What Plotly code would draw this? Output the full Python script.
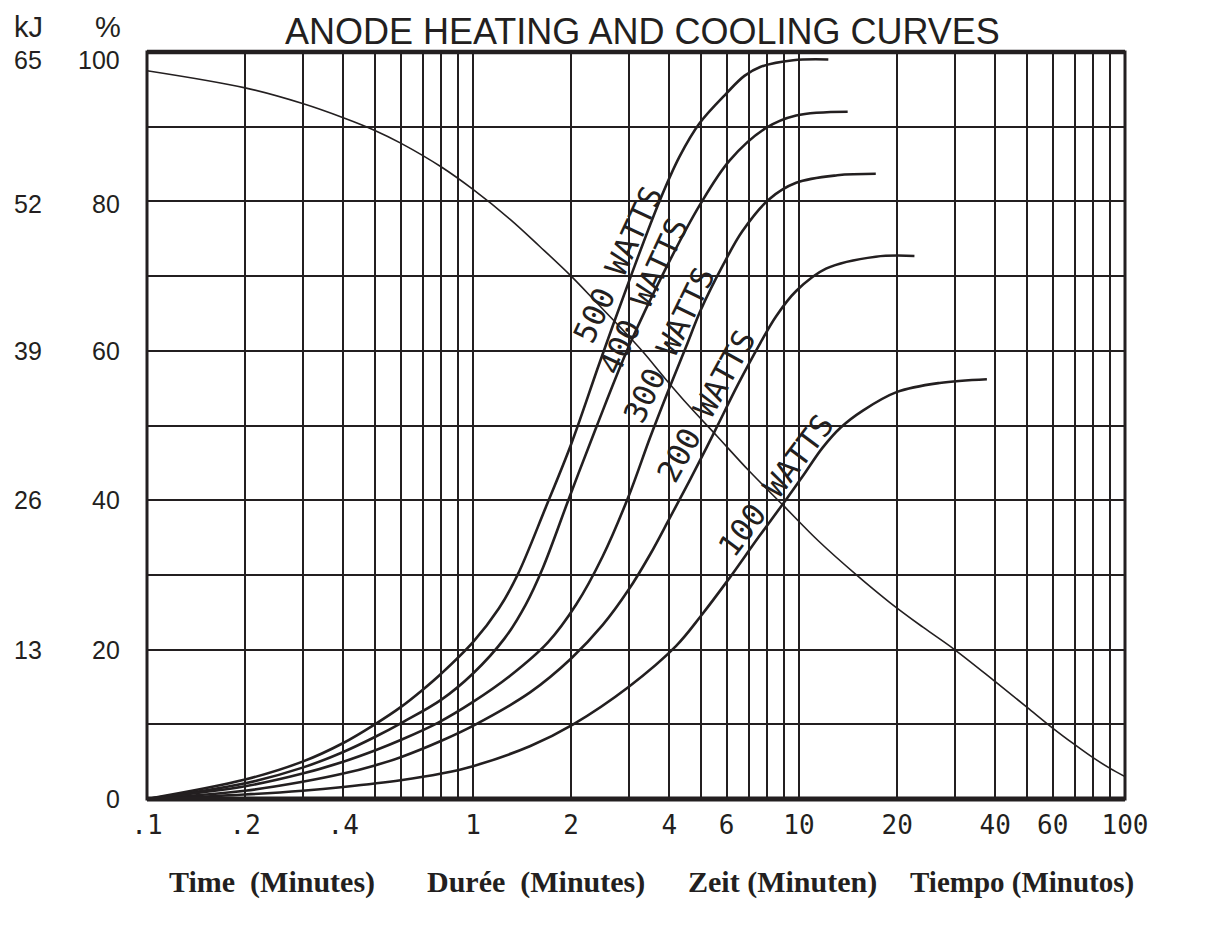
import plotly.graph_objects as go
import math

# ---------------- data ----------------
time_500 = [0.1, 0.2, 0.3, 0.4, 0.5, 0.6, 0.7, 0.8, 1.0, 1.2, 1.37, 1.67, 2.0, 2.45, 3.05, 3.73, 4.3, 4.96, 6.0, 6.8, 7.6, 9.6, 12.3]
pct_500 = [0, 2.6, 5.0, 7.5, 10, 12.3, 14.6, 16.8, 21, 25.5, 30, 39, 47.5, 58.5, 70, 80, 86, 90.5, 94.5, 96.8, 98, 98.9, 99]

time_400 = [0.1, 0.2, 0.3, 0.4, 0.5, 0.61, 0.8, 1.0, 1.25, 1.45, 1.64, 1.98, 2.4, 3.0, 3.9, 4.96, 6.13, 7.9, 9.8, 14.1]
pct_400 = [0, 2.1, 4.2, 6.3, 8.3, 10.3, 13.3, 16.8, 21.5, 26, 31, 40.5, 50, 60.5, 71, 79.5, 85.5, 89.8, 91.5, 92]

time_300 = [0.1, 0.2, 0.3, 0.4, 0.5, 0.6, 0.78, 1.0, 1.3, 1.7, 2.07, 2.5, 3.0, 3.5, 4.0, 4.5, 5.0, 5.85, 6.7, 8.1, 9.8, 13.1, 17.2]
pct_300 = [0, 1.7, 3.4, 5.0, 6.5, 7.9, 10.2, 13, 16.5, 21, 26, 32.5, 40.5, 48.5, 55, 60.5, 65.5, 71.5, 76, 80.3, 82.5, 83.5, 83.7]

time_200 = [0.1, 0.2, 0.3, 0.4, 0.5, 0.6, 0.8, 1.02, 1.5, 2.0, 2.5, 3.0, 3.5, 4.0, 4.6, 5.2, 5.7, 6.5, 7.6, 8.5, 9.8, 12.1, 17.2, 22.6]
pct_200 = [0, 1.1, 2.3, 3.4, 4.5, 5.6, 7.8, 10, 14.3, 18.8, 23.3, 28, 32.8, 37.5, 42.5, 47, 50.5, 55.5, 61, 64.6, 68, 71, 72.6, 72.7]

time_100 = [0.1, 0.2, 0.3, 0.4, 0.6, 0.8, 1.0, 1.5, 2.03, 3.0, 4.2, 5.0, 6.1, 7.5, 9.1, 10.3, 11.8, 13.4, 15.7, 20, 27, 37.7]
pct_100 = [0, 0.6, 1.1, 1.6, 2.5, 3.4, 4.4, 7.1, 10, 15, 20.5, 24.5, 29.5, 35, 40, 43.3, 47, 49.7, 52, 54.5, 55.7, 56.2]

time_cool = [0.1, 0.2, 0.3, 0.4, 0.5, 0.6, 0.8, 1.0, 1.3, 1.6, 2.0, 2.4, 2.85, 3.3, 3.9, 4.6, 5.6, 7, 8.9,
             11.5, 15, 19, 24, 30, 40, 50, 60, 70, 80, 90, 100]
pct_cool = [97.5, 95.2, 93.1, 91.2, 89.5, 87.8, 84.6, 81.6, 77.6, 74, 70, 66.4, 63, 60, 56.2, 52.6, 48.6, 44, 39.4,
            34.5, 30, 26.3, 23, 20, 15.7, 12.3, 9.5, 7.3, 5.5, 4.1, 3.0]

x_grid = [m * 10 ** e for e in (-1, 0, 1) for m in range(1, 10)] + [100]
x_labeled = [0.1, 0.2, 0.4, 0.6, 1, 2, 4, 6, 10, 20, 40, 60, 100]
x_label_text = [".1", ".2", ".4", ".6", "1", "2", "4", "6", "10", "20", "40", "60", "100"]

pct_ticks = [0, 20, 40, 60, 80, 100]
pct_text = ["0", "20", "40", "60", "80", "100"]
kj_ticks = [20, 40, 60, 80, 100]
kj_text = ["13", "26", "39", "52", "65"]

# curve label: text, centre time, centre %, angle
labels = [
    ("500 WATTS", 2.88, 71.3, -65),
    ("400 WATTS", 3.44, 67.1, -65),
    ("300 WATTS", 4.12, 60.5, -64),
    ("200 WATTS", 5.35, 52.3, -61),
    ("100 WATTS", 8.75, 41.6, -53),
]

captions = [
    ("Time  (Minutes)", 272, 30),
    ("Durée  (Minutes)", 536, 30),
    ("Zeit (Minuten)", 782, 30),
    ("Tiempo (Minutos)", 1022, 29),
]

INK = "#231f20"

fig = go.Figure()
for t, p in [(time_500, pct_500), (time_400, pct_400), (time_300, pct_300),
             (time_200, pct_200), (time_100, pct_100)]:
    fig.add_trace(go.Scatter(x=t, y=p, mode="lines",
                             line=dict(color=INK, width=2.6, shape="spline", smoothing=1.0),
                             hoverinfo="skip", showlegend=False))
fig.add_trace(go.Scatter(x=time_cool, y=pct_cool, mode="lines",
                         line=dict(color=INK, width=1.6, shape="spline", smoothing=1.0),
                         hoverinfo="skip", showlegend=False))

# the page body adds an 8px offset, so the figure is drawn 8px smaller
W, H = 1193, 910
L, R, T, B = 139, 76, 44, 119

fig.update_layout(
    width=W, height=H,
    margin=dict(l=L, r=R, t=T, b=B),
    paper_bgcolor="white", plot_bgcolor="white",
    showlegend=False,
    xaxis=dict(type="log", range=[-1, 2], tickvals=x_grid,
               ticktext=[x_label_text[x_labeled.index(v)] if v in x_labeled else "" for v in x_grid],
               showgrid=True, gridcolor=INK, gridwidth=2, showline=False, zeroline=False,
               ticks="", ticklabelstandoff=8,
               tickfont=dict(family="DejaVu Sans Mono", size=26, color=INK)),
    yaxis=dict(range=[0, 100], tickvals=list(range(0, 101, 10)), showticklabels=False,
               showgrid=True, gridcolor=INK, gridwidth=2, showline=False, zeroline=False,
               ticks=""),
)

# border of the plot area
fig.add_shape(type="rect", xref="paper", yref="paper", x0=0, x1=1, y0=0, y1=1,
              line=dict(color=INK, width=3), layer="above")
fig.add_shape(type="line", xref="paper", yref="paper", x0=0, x1=1, y0=1, y1=1,
              line=dict(color=INK, width=4.5), layer="above")
fig.add_shape(type="line", xref="paper", yref="paper", x0=0, x1=1, y0=0, y1=0,
              line=dict(color=INK, width=5), layer="above")

pw = W - L - R
REF_L = 147  # plot left edge in reference pixels


def px(xref_px):
    return (xref_px - REF_L) / pw


axfont = dict(family="Liberation Sans, Arial", size=25, color=INK)
headfont = dict(family="Liberation Sans, Arial", size=29, color=INK)

# % column
for v, txt in zip(pct_ticks, pct_text):
    fig.add_annotation(xref="paper", yref="y", x=px(122), y=v, text=txt,
                       showarrow=False, xanchor="right", yanchor="middle", font=axfont,
                       yshift=-8 if v == 100 else (-3 if v == 80 else 0))
# kJ column
for v, txt in zip(kj_ticks, kj_text):
    fig.add_annotation(xref="paper", yref="y", x=px(12), y=v, text=txt,
                       showarrow=False, xanchor="left", yanchor="middle", font=axfont,
                       yshift=-8 if v == 100 else (-3 if v == 80 else 0))
# column headers
fig.add_annotation(xref="paper", yref="paper", x=px(12), y=1, yshift=25, text="kJ",
                   showarrow=False, xanchor="left", yanchor="middle", font=headfont)
fig.add_annotation(xref="paper", yref="paper", x=px(123), y=1, yshift=25, text="%",
                   showarrow=False, xanchor="right", yanchor="middle", font=headfont)

# title
fig.add_annotation(xref="paper", yref="paper", x=px(642), y=1, yshift=21,
                   text="ANODE HEATING AND COOLING CURVES", showarrow=False,
                   xanchor="center", yanchor="middle", borderpad=0,
                   font=dict(family="Liberation Sans, Arial", size=36, color=INK))

# curve labels (nudged a few pixels to the upper-left side of their curve)
OFFSET = 5
for txt, tx, ty, ang in labels:
    a = math.radians(abs(ang))
    fig.add_annotation(x=math.log10(tx), y=ty, text=txt, showarrow=False, textangle=ang,
                       xanchor="center", yanchor="middle",
                       xshift=-OFFSET * math.sin(a), yshift=OFFSET * math.cos(a),
                       font=dict(family="DejaVu Sans Mono", size=31, color=INK))

# bottom captions
for txt, cx, fs in captions:
    fig.add_annotation(xref="paper", yref="paper", x=px(cx), y=0, yshift=-(882 - 799),
                       text="<b>" + txt + "</b>", showarrow=False, xanchor="center", yanchor="middle",
                       font=dict(family="Liberation Serif, Times New Roman", size=fs, color=INK))

fig.write_html("out.html")
